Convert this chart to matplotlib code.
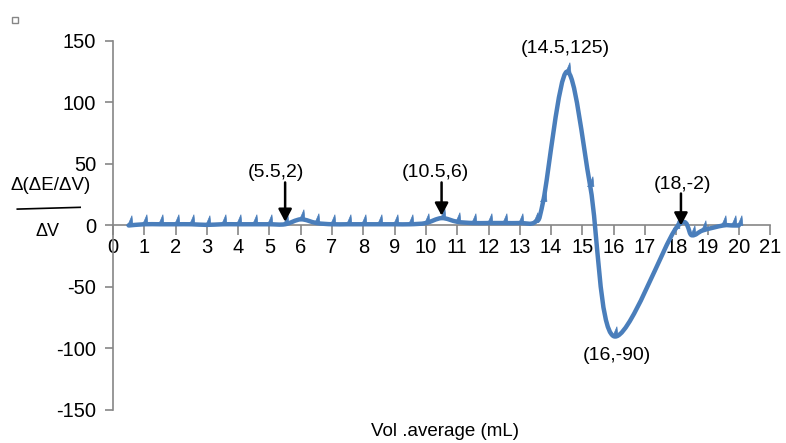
import numpy as np
import matplotlib.pyplot as plt
from matplotlib.path import Path
from matplotlib.patches import PathPatch, Rectangle
from matplotlib.lines import Line2D

plt.rcParams['font.family'] = ['Liberation Sans', 'DejaVu Sans']
plt.rcParams['axes.unicode_minus'] = False

# titration data: average volume (mL) vs second derivative
vol_avg = [0.5, 1, 1.5, 2, 2.5, 3, 3.5, 4, 4.5, 5, 5.5, 6, 6.5, 7, 7.5, 8, 8.5,
           9, 9.5, 10, 10.5, 11, 11.5, 12, 12.5, 13, 13.5, 13.75, 14.5, 15.25,
           16, 18, 18.5, 18.85, 19.5, 19.8, 20]
d2 = [0, 1, 1, 1, 1, 0.5, 1, 1, 1, 1, 1, 5, 2, 1, 1, 1, 1,
      1, 1, 2, 6, 3, 2, 2, 2, 2, 3, 20, 125, 32,
      -90, -2, -8, -4, 0, 0, 0]

labels = ['(5.5,2)', '(10.5,6)', '(14.5,125)', '(16,-90)', '(18,-2)']
label_pos = [(5.2, 43), (10.3, 43), (14.45, 144), (16.1, -106), (18.2, 33)]
# arrows: x, start y, tip y
arrows = [(5.5, 35, 3), (10.5, 35, 8), None, None, (18.15, 26, 0)]

blue = '#4A7EBB'
grey = '#868686'

fig = plt.figure(figsize=(7.86, 4.43), dpi=100)
ax = fig.add_axes([0.1438, 0.0745, 0.836, 0.833])
ax.set_xlim(0, 21)
ax.set_ylim(-150, 150)

# smoothed line (excel style bezier)
x = np.array(vol_avg, float)
y = np.array(d2, float)
pts = np.column_stack([x, y])
verts = [pts[0]]
codes = [Path.MOVETO]
n = len(pts)
for i in range(n - 1):
    p0 = pts[max(i - 1, 0)]
    p1 = pts[i]
    p2 = pts[i + 1]
    p3 = pts[min(i + 2, n - 1)]
    c1 = p1 + (p2 - p0) / 6
    c2 = p2 - (p3 - p1) / 6
    verts += [c1, c2, p2]
    codes += [Path.CURVE4] * 3
ax.add_patch(PathPatch(Path(verts, codes), fill=False, edgecolor=blue, lw=3.2,
                       capstyle='round', joinstyle='round', zorder=3))

spike = Path([(-0.3, 0), (-0.05, 0.3), (0.12, 0.7), (0.25, 1.0), (0.3, 0.5),
              (0.35, 0), (-0.3, 0)])
ax.plot(x, y, ls='none', marker=spike, ms=14, mfc=blue, mec=blue, mew=0.5,
        zorder=3)

for lab, (tx, ty), arr in zip(labels, label_pos, arrows):
    ax.text(tx, ty, lab, ha='center', va='center', fontsize=14)
    if arr is not None:
        ax.annotate('', xy=(arr[0], arr[2]), xytext=(arr[0], arr[1]),
                    arrowprops=dict(arrowstyle='-|>,head_length=0.75,head_width=0.4',
                                    color='black', lw=1.8, shrinkA=0, shrinkB=0),
                    zorder=4)

ax.spines['top'].set_visible(False)
ax.spines['right'].set_visible(False)
ax.spines['bottom'].set_position(('data', 0))
for s in ['left', 'bottom']:
    ax.spines[s].set_color(grey)
    ax.spines[s].set_linewidth(1.2)
ax.set_xticks(range(0, 22))
ax.set_yticks(range(-150, 151, 50))
ax.tick_params(axis='x', direction='out', length=7, color=grey, width=1.2,
               labelsize=14.5, pad=2)
ax.tick_params(axis='y', direction='out', length=6, color=grey, width=1.2,
               labelsize=14.5, pad=6)

fig.text(0.566, 0.025, 'Vol .average (mL)', ha='center', va='center', fontsize=13.5)
fig.text(0.065, 0.582, 'Δ(ΔE/ΔV)', ha='center', va='center', fontsize=13.5)
fig.add_artist(Line2D([0.022, 0.102], [0.528, 0.532], color='black', lw=1.2))
fig.text(0.061, 0.478, 'ΔV', ha='center', va='center', fontsize=13)
fig.add_artist(Rectangle((0.015, 0.949), 0.008, 0.013, fill=False, ec=grey, lw=1))

fig.savefig('out.png', dpi=100)
